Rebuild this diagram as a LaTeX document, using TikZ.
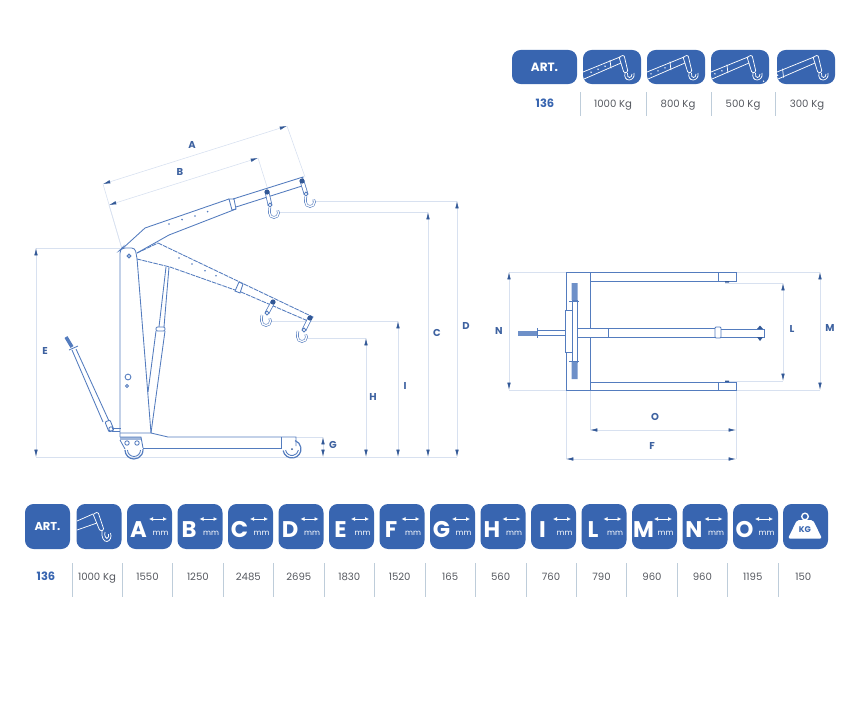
\documentclass[tikz,border=0pt]{standalone}
\usepackage{fontspec}
\setmainfont{Poppins}
\usetikzlibrary{arrows.meta, calc, positioning}
\definecolor{Boxcol}{RGB}{56, 101, 176}
\definecolor{Linecol}{RGB}{84, 124, 190}
\definecolor{Dimcol}{RGB}{216, 225, 240}
\definecolor{Tipcol}{RGB}{50, 88, 150}
\definecolor{Lettercol}{RGB}{62, 98, 160}
\definecolor{Valcol}{RGB}{85, 88, 95}
\definecolor{Sepcol}{RGB}{190, 205, 218}
\begin{document}
\begin{tikzpicture}[
    x=0.75pt, y=-0.75pt,
    boomline/.style={Linecol, line width=0.65pt},
    boomdash/.style={Linecol, line width=0.65pt, dash pattern=on 3.5pt off 0.7pt},
    dimline/.style={
        Dimcol, line width=0.45pt,
        {Latex[length=5.5pt, width=2.6pt, color=Tipcol]}-{Latex[length=5.5pt, width=2.6pt, color=Tipcol]}
    },
    extline/.style={Dimcol, line width=0.45pt},
    dimlabel/.style={text=Lettercol, font=\fontsize{7.5}{9}\selectfont\bfseries, inner sep=0pt},
    valbox/.style={text=Valcol, font=\fontsize{7.6}{9}\selectfont, inner sep=0pt, anchor=base},
    artval/.style={text=Boxcol, font=\fontsize{8.6}{10}\selectfont\bfseries, inner sep=0pt},
    sepline/.style={Sepcol, line width=0.7pt},
    bluebox/.style={fill=Boxcol, rounded corners=6.5pt},
    whiteline/.style={white, line width=0.55pt},
    boomicon/.pic={
        \draw[whiteline] (0,22) -- (37,7) (1,29) -- (38,13);
        \draw[whiteline] ({#1*37},{22-#1*15-1}) -- ({1+#1*37},{29-#1*16+1});
        \fill[white] ({#1*37-5},{25.5-#1*15.5+2}) circle (0.8) ({#1*37-12},{25.5-#1*15.5+5}) circle (0.8) ({#1*37-19},{25.5-#1*15.5+8}) circle (0.8);
        \draw[whiteline, rounded corners=1pt] (36,7) -- (41,5) -- (45,22) -- (41,23) -- cycle;
        \draw[whiteline] (42,23) .. controls (41,27) and (43,30) .. (46,30) .. controls (49,30) and (52,27) .. (51,23);
        \draw[whiteline] (44.5,23) .. controls (44,26) and (45,27.5) .. (46.5,27.5) .. controls (48,27.5) and (49,26) .. (49,24);
    }
]
    \useasboundingbox (0,0) rectangle (859,710);

    % hook hanging under a boom: pivot, end of the link, origin of the ring
    \def\drawhook(#1)(#2)(#3){
        \draw[Linecol, line width=0.6pt, double=white, double distance=2.2pt] (#1) -- (#2);
        \fill[Tipcol] (#1) circle (2.6);
        \draw[boomline, fill=white] (#2) circle (1.9);
        \draw[Linecol, line width=0.45pt, double=white, double distance=1pt]
            ($(#3)+(1,1)$) .. controls ($(#3)+(0.5,3)$) .. ($(#3)+(0.5,7)$)
            arc[start angle=180, end angle=-35, radius=4.5];
    }

    % ------------------- CAPACITY TABLE -------------------
    \node[bluebox, minimum width=48.75pt, minimum height=25.5pt, text=white, font=\fontsize{9}{10}\selectfont\bfseries] (artTop) at (544.5,67) {ART.};
    \foreach \x/\frac/\name in {583/0.73/a, 647/0.62/b, 711/0.43/c, 777/0.15/d} {
        \fill[bluebox] (\x,50) rectangle ++(58,34);
        \pic (icon\name) at (\x,50) {boomicon=\frac};
    }
    \node[artval] (artTopVal) at (545,103) {136};
    \foreach \x/\lab/\name in {613/1000 Kg/a, 678/800 Kg/b, 743/500 Kg/c, 807/300 Kg/d}
        \node[valbox] (capVal\name) at (\x,107) {\lab};
    \foreach \x in {580,646,711,775}
        \draw[sepline] (\x,92) -- (\x,116);

    % ------------------- DIMENSION LINES SIDE VIEW -------------------
    \draw[extline] (36,248) -- (120,248);
    \draw[extline] (36,457) -- (457,457);
    \draw[extline] (122,249) -- (103,184);
    \draw[extline] (122,249) -- (109,205);
    \draw[extline] (305,177) -- (287,126);
    \draw[extline] (268,190) -- (258,158);
    \draw[extline] (312,201) -- (457,201);
    \draw[extline] (277,212) -- (428,212);
    \draw[extline] (270,321) -- (398,321);
    \draw[extline] (305,338) -- (366,338);
    \draw[extline] (296,437) -- (323,437);

    \draw[dimline] (103,184) -- (287,126);
    \draw[dimline] (109,205) -- (258,158);
    \draw[dimline] (36,248) -- (36,457);
    \draw[dimline] (428,212) -- (428,457);
    \draw[dimline] (457,201) -- (457,457);
    \draw[dimline] (366,338) -- (366,457);
    \draw[dimline] (398,321) -- (398,457);
    \draw[dimline] (323,437) -- (323,457);

    \node[dimlabel] (lA) at (192,145) {A};
    \node[dimlabel] (lB) at (180,172) {B};
    \node[dimlabel] (lC) at (437,333) {C};
    \node[dimlabel] (lD) at (466,326) {D};
    \node[dimlabel] (lE) at (45,351) {E};
    \node[dimlabel] (lG) at (333,445) {G};
    \node[dimlabel] (lH) at (373,397) {H};
    \node[dimlabel] (lI) at (405,386) {I};

    % ------------------- CRANE SIDE VIEW -------------------
    % Colonna
    \draw[boomline, rounded corners=2.5pt] (120,437) -- (120,250) -- (122,248) -- (135,248) -- (137,258) -- (151,433);
    \draw[boomline] (129,256) circle (1.9);
    \fill[Linecol] (129,256) circle (0.8);
    \draw[boomline] (128,377) circle (2.9);
    \draw[boomline] (127,386) circle (1.5);

    % Base e ruote
    \draw[boomline] (120,433) -- (151,433) -- (168,437) -- (296,437) -- (296,446);
    \draw[boomline] (143,448) -- (281,448) -- (281,437);
    \fill[Linecol!55] (120,437) rectangle (141,440);
    \draw[boomline] (120,437) -- (141,437) -- (143,448) (120,440) -- (125,449);
    \draw[boomline] (127,443) circle (2.2) (137,443) circle (2.2);
    \draw[boomline, line width=0.9pt] (134,450) ++(180:9) arc[start angle=180, end angle=-5, radius=9];
    \draw[boomline] (134,450) ++(180:6.5) arc[start angle=180, end angle=0, radius=6.5];
    \draw[boomline, line width=0.9pt] (292,449) ++(170:9) arc[start angle=170, end angle=-70, radius=9];
    \draw[boomline] (292,449) ++(170:6.5) arc[start angle=170, end angle=10, radius=6.5];
    \fill[Tipcol] (292,449) circle (1);

    % Cilindro
    \draw[boomline] (166,267) -- (159,327) (169,267) -- (164,327);
    \draw[boomline, rounded corners=1pt, fill=white] (156,327) rectangle (165,331);
    \draw[boomline] (156,331) -- (148,392) (165,331) -- (151,433);

    % Leva
    \draw[Linecol, line width=2.6pt] (66,337) -- (72,347);
    \draw[boomline] (69,350) -- (78,346);
    \draw[boomline] (72,350) -- (103,422) (76,349) -- (109,421);
    \draw[boomline, rounded corners=0.8pt] (105,422) -- (110,420) -- (114,430) -- (109,432) -- cycle;
    \draw[boomline] (111,429) circle (2.2);
    \draw[boomline] (112,428) -- (121,428) (112,431) -- (120,431);

    % Braccio alto
    \draw[boomline] (122,249) -- (145,228) -- (229,199);
    \draw[boomline] (137,253) -- (169,235) -- (236,209);
    \draw[boomline] (229,199) -- (232,210) -- (236,209) -- (234,199) -- cycle;
    \draw[boomline] (233,199) -- (303,177) -- (302,186) -- (236,207);
    \foreach \x/\y in {169/224, 182/219.6, 195/216, 207.6/211.6}
        \fill[Linecol] (\x,\y) circle (0.9);
    \drawhook(267,192)(270,205)(269,206)
    \drawhook(302,181)(306,194)(305,195)

    % Braccio basso
    \draw[boomdash] (158,243) -- (313,317) -- (308,321);
    \draw[boomdash] (137,259) -- (170,267) -- (235,290);
    \draw[boomdash] (137,253) -- (158,243);
    \draw[boomline, fill=white] (239,282) -- (235,291) -- (240,293) -- (243,284) -- cycle;
    \draw[boomdash] (241,292) -- (308,321);
    \foreach \x/\y in {179/258, 192/264, 205/270.7, 216/275.7}
        \fill[Linecol] (\x,\y) circle (0.9);
    \drawhook(273,302)(267,313)(261,314)
    \drawhook(310,318)(304,330)(297,330)

    % ------------------- TOP VIEW -------------------
    \draw[extline] (509,272) -- (566,272) (509,390) -- (566,390);
    \draw[extline] (736,272) -- (820,272) (736,390) -- (820,390);
    \draw[extline] (725,283) -- (783,283) (725,381) -- (783,381);
    \draw[extline] (566,390) -- (566,459) (590,390) -- (590,430) (736,390) -- (736,459);

    \draw[dimline] (509,272) -- (509,390);
    \draw[dimline] (783,283) -- (783,381);
    \draw[dimline] (820,272) -- (820,390);
    \draw[dimline] (590,430) -- (736,430);
    \draw[dimline] (566,459) -- (736,459);

    \node[dimlabel] (lN) at (499,331) {N};
    \node[dimlabel] (lL) at (792,329) {L};
    \node[dimlabel] (lM) at (830,328) {M};
    \node[dimlabel] (lO) at (655,417) {O};
    \node[dimlabel] (lF) at (652,446) {F};

    \draw[boomline] (566,272) rectangle (590,390);
    \draw[boomline] (590,272) rectangle (736,281) (718,272) -- (718,281);
    \draw[boomline] (590,382) rectangle (736,390) (718,382) -- (718,390);
    \fill[Tipcol] (725,281) rectangle (729,282.5) (725,380.5) rectangle (729,382);
    \draw[boomline, fill=white] (577,328) rectangle (715,337) (608,328) -- (608,337);
    \draw[boomline, fill=white, rounded corners=0.8pt] (715,327) rectangle (721,338);
    \draw[boomline] (721,329) -- (764,329) -- (764,337) -- (721,337);
    \fill[Tipcol] (757,329) -- (760,325.5) -- (763,329) -- cycle (757,337) -- (760,341) -- (763,337) -- cycle;
    \draw[boomline, fill=white] (572,300) rectangle (577,362);
    \draw[boomline, fill=white] (565,310) rectangle (572,352);
    \fill[Linecol!85] (571.5,283) rectangle (577.5,300) (571.5,362) rectangle (577.5,379);
    \draw[boomline] (569,301) -- (579,301) (569,361) -- (579,361);
    \draw[boomline] (537,330) rectangle (565,335);
    \fill[Linecol!85] (518,331) rectangle (537,335.5);
    \draw[boomline] (537.5,328) -- (537.5,338);

    % ------------------- DATA TABLE -------------------
    \node[bluebox, minimum width=33.75pt, minimum height=33.75pt, text=white, font=\fontsize{8.6}{10}\selectfont\bfseries] (artBot) at (47.5,526.5) {ART.};
    \fill[bluebox] (76.5,504) rectangle ++(45,45);
    \draw[whiteline] (77,521) -- (93,514) (77,530) -- (97,523);
    \draw[whiteline, rounded corners=1pt] (93,514) -- (98,512) -- (104,530) -- (100,531) -- cycle;
    \draw[whiteline] (102,531) .. controls (101,537) and (104,542) .. (107,541.5) .. controls (110,541) and (112,537) .. (110.5,533);
    \draw[whiteline] (105,532) .. controls (104,536) and (106,538.5) .. (107,538.5) .. controls (108.5,538) and (109,536) .. (108.5,534);

    \foreach \lab [count=\i from 0] in {A,B,C,D,E,F,G,H,I,L,M,N,O} {
        \fill[bluebox] ({127+\i*50.5},504) rectangle ++(45,45);
        \node[text=white, font=\fontsize{17}{17}\selectfont\bfseries, inner sep=0pt] (box\lab) at ({138.5+\i*50.5},529.5) {\lab};
        \draw[white, line width=0.55pt, {Latex[length=3pt, width=3pt]}-{Latex[length=3pt, width=3pt]}] ({149+\i*50.5},519) -- ({167+\i*50.5},519);
        \node[text=white, font=\fontsize{5.8}{6}\selectfont, inner sep=0pt] (mm\lab) at ({160.5+\i*50.5},533) {mm};
    }

    % peso
    \fill[bluebox] (783,504) rectangle ++(45,45);
    \draw[white, line width=1pt] (805,516.5) circle (3.3);
    \fill[white, rounded corners=1.5pt] (797,520) -- (813,520) -- (822,538.5) -- (788,538.5) -- cycle;
    \node[text=Boxcol, font=\fontsize{6.2}{7}\selectfont\bfseries, inner sep=0pt] (kgIcon) at (805,529.5) {KG};

    \node[artval] (artBotVal) at (46,576) {136};
    \foreach \lab [count=\i from 0] in {1000 Kg,1550,1250,2485,2695,1830,1520,165,560,760,790,960,960,1195,150}
        \node[valbox] (val\i) at ({97+\i*50.45},580.5) {\lab};
    \foreach \i in {0,...,14}
        \draw[sepline] ({72+\i*50.45},563) -- ({72+\i*50.45},597);
\end{tikzpicture}
\end{document}
